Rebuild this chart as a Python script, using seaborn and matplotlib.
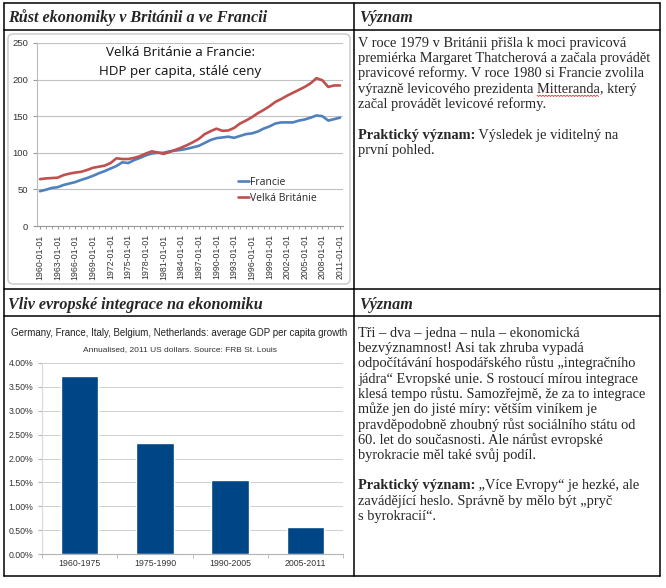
import matplotlib
matplotlib.use("Agg")
import numpy as np
import pandas as pd
import seaborn as sns
import matplotlib.pyplot as plt
from matplotlib.lines import Line2D
from matplotlib.patches import FancyBboxPatch
from matplotlib.text import Annotation
from matplotlib.ticker import FuncFormatter

W, H = 666, 588

# --- data ---
years = list(range(1960, 2012))
francie = [47.5, 49.5, 52, 53, 56, 58, 60, 63, 65.5, 68.5,
           72, 75, 78.5, 82, 87, 86, 90, 93, 96.5, 99,
           100, 100, 102, 103, 104, 105.5, 107.5, 109.5, 113.5, 117.5,
           120, 121, 122, 120.5, 123, 125.5, 126.5, 129, 133, 136,
           140, 141.5, 141.5, 141.5, 144, 145.5, 148, 151, 150, 144,
           146, 148]
britanie = [64, 65, 65.5, 66, 69.5, 71.5, 73, 74, 76.5, 79.5,
            81, 82.5, 86, 92.5, 91.5, 91.5, 93, 95.5, 99, 102,
            100.5, 98.5, 101, 104, 107, 110.5, 114.5, 119, 125.5, 129.5,
            133, 130, 130.5, 134, 140, 144, 148.5, 154, 158.5, 163.5,
            169.5, 173.5, 178, 182, 186, 190, 195, 202, 199, 190,
            192, 192]
periods = ["1960-1975", "1975-1990", "1990-2005", "2005-2011"]
growth = [3.72, 2.33, 1.55, 0.56]

text1 = ["V roce 1979 v Británii přišla k moci pravicová",
         "premiérka Margaret Thatcherová a začala provádět",
         "pravicové reformy. V roce 1980 si Francie zvolila",
         "výrazně levicového prezidenta Mitteranda, který",
         "začal provádět levicové reformy."]
text2 = ["Tři – dva – jedna – nula – ekonomická",
         "bezvýznamnost! Asi tak zhruba vypadá",
         "odpočítávání hospodářského růstu „integračního",
         "jádra“ Evropské unie. S rostoucí mírou integrace",
         "klesá tempo růstu. Samozřejmě, že za to integrace",
         "může jen do jisté míry: větším viníkem je",
         "pravděpodobně zhoubný růst sociálního státu od",
         "60. let do současnosti. Ale nárůst evropské",
         "byrokracie měl také svůj podíl."]
prakt1 = [" Výsledek je viditelný na", "první pohled."]
prakt2 = [" „Více Evropy“ je hezké, ale", "zavádějící heslo. Správně by mělo být „pryč",
          "s byrokracií“."]

sns.set_style("white")
plt.rcParams['font.family'] = ['Liberation Serif', 'DejaVu Serif']


def fx(x):
    return x / W


def fy(y):
    return 1 - y / H


fig = plt.figure(figsize=(W / 100, H / 100), dpi=100)
rend = fig.canvas.get_renderer()

# table grid
for y in [3, 30, 289, 316, 576]:
    fig.add_artist(Line2D([fx(4), fx(660)], [fy(y), fy(y)], color="black", lw=1.1))
for x in [4, 354, 660]:
    fig.add_artist(Line2D([fx(x), fx(x)], [fy(3), fy(576)], color="black", lw=1.1))

# headers
hdr = dict(fontsize=11.6, fontweight="bold", fontstyle="italic", va="baseline")
fig.text(fx(8), fy(22), "Růst ekonomiky v Británii a ve Francii", **hdr)
fig.text(fx(359), fy(22), "Význam", **hdr)
fig.text(fx(8), fy(309), "Vliv evropské integrace na ekonomiku", **hdr)
fig.text(fx(359), fy(309), "Význam", **hdr)

FS = 10.4
body = dict(fontsize=FS, va="baseline", ha="left")
step = 15.25


def block(lines, y0):
    out = []
    for i, s in enumerate(lines):
        out.append(fig.text(fx(358), fy(y0 + i * step), s, **body))
    return out


def prakt(lines, y0):
    b = fig.text(fx(358), fy(y0), "Praktický význam:", fontweight="bold", **body)
    a = Annotation(lines[0], xy=(1, 0), xycoords=b, va="bottom", ha="left",
                   fontsize=FS)
    fig.add_artist(a)
    for i, s in enumerate(lines[1:], start=1):
        fig.text(fx(358), fy(y0 + i * step), s, **body)


block(text1, 47)
prakt(prakt1, 47 + 6 * step)
block(text2, 337)
prakt(prakt2, 337 + 10 * step)

# red spell-check squiggle under "Mitteranda"
line4 = text1[3]
pre = line4[:line4.index("Mitteranda")]
tmp = fig.text(0, 0, pre + "|", **body)
tmp2 = fig.text(0, 0, "|", **body)
x0 = 358 + tmp.get_window_extent(rend).width - tmp2.get_window_extent(rend).width
tmp3 = fig.text(0, 0, "Mitteranda", **body)
x1 = x0 + tmp3.get_window_extent(rend).width
for t in (tmp, tmp2, tmp3):
    t.remove()
yb = 47 + 3 * step + 2.5
zx = np.arange(x0, x1 + 0.1, 1.5)
zy = yb + np.where(np.arange(len(zx)) % 2 == 0, 0, 1.2)
fig.add_artist(Line2D(fx(zx), fy(zy), color="#e03030", lw=0.6))

# --- chart 1: line chart ---
fig.add_artist(FancyBboxPatch((fx(8), fy(284)), fx(350) - fx(8), fy(34) - fy(284),
                              boxstyle="round,pad=0,rounding_size=0.008",
                              transform=fig.transFigure, ec="#c8c8c8", fc="none", lw=1))
ax1 = fig.add_axes([fx(37), fy(226), fx(343) - fx(37), fy(43) - fy(226)])
df1 = pd.DataFrame({"rok": years * 2,
                    "hdp": francie + britanie,
                    "zeme": ["Francie"] * len(years) + ["Velká Británie"] * len(years)})
sns.lineplot(data=df1, x="rok", y="hdp", hue="zeme", ax=ax1,
             palette={"Francie": "#4F81BD", "Velká Británie": "#C0504D"}, lw=1.9)
ax1.set_xlim(1959.5, 2011.5)
ax1.set_ylim(0, 250)
ax1.set_yticks(range(0, 251, 50))
ticks = list(range(1960, 2012, 3))
ax1.set_xticks(ticks)
ax1.set_xticklabels([f"{t}-01-01" for t in ticks], rotation=90,
                    fontsize=6.3, family="Liberation Sans", color="#333333")
ax1.set_xticks(years, minor=True)
ax1.tick_params(axis="y", labelsize=6.8, labelcolor="#333333", length=3,
                left=True, color="#999999")
for lab in ax1.get_yticklabels():
    lab.set_family("Liberation Sans")
ax1.tick_params(axis="x", which="both", bottom=True, length=2.5, color="#999999")
ax1.grid(axis="y", color="#c0c0c0", lw=0.8)
ax1.set_xlabel("")
ax1.set_ylabel("")
for s in ["top", "right"]:
    ax1.spines[s].set_visible(False)
ax1.spines["left"].set_color("#bbbbbb")
ax1.spines["bottom"].set_color("#999999")
sns.move_legend(ax1, loc="upper left", bbox_to_anchor=(0.625, 0.32), frameon=False,
                title=None, handlelength=1.1, handletextpad=0.1,
                labelspacing=0.45, prop={"family": "Open Sans", "size": 7.5})
fig.text(fx(180), fy(53), "Velká Británie a Francie:", ha="center", va="center",
         fontsize=9.6, family="Open Sans", color="#111111")
fig.text(fx(180), fy(72), "HDP per capita, stálé ceny", ha="center", va="center",
         fontsize=9.6, family="Open Sans", color="#111111")

# --- chart 2: bar chart ---
ax2 = fig.add_axes([fx(42), fy(554), fx(343) - fx(42), fy(363) - fy(554)])
df2 = pd.DataFrame({"obdobi": periods, "rust": growth})
sns.barplot(data=df2, x="obdobi", y="rust", color="#004586", saturation=1,
            width=0.5, ax=ax2)
ax2.set_xlim(-0.5, 3.5)
ax2.set_ylim(0, 4)
ax2.set_yticks(np.arange(0, 4.01, 0.5))
ax2.yaxis.set_major_formatter(FuncFormatter(lambda v, p: f"{v:.2f}%"))
ax2.set_xticks([-0.5, 0.5, 1.5, 2.5, 3.5], minor=True)
ax2.tick_params(axis="x", which="major", length=0, labelsize=6.3, labelcolor="#333333")
ax2.tick_params(axis="x", which="minor", bottom=True, length=3, color="#b3b3b3")
ax2.tick_params(axis="y", labelsize=6.3, labelcolor="#333333", left=True, length=3,
                color="#b3b3b3")
for lab in ax2.get_xticklabels() + ax2.get_yticklabels():
    lab.set_family("Liberation Sans")
ax2.grid(axis="y", color="#d0d0d0", lw=0.7)
ax2.set_axisbelow(True)
ax2.set_xlabel("")
ax2.set_ylabel("")
for s in ["top", "right"]:
    ax2.spines[s].set_visible(False)
ax2.spines["left"].set_color("#d9d9d9")
ax2.spines["bottom"].set_color("#b3b3b3")
fig.text(fx(179), fy(333), "Germany, France, Italy, Belgium, Netherlands: average GDP per capita growth",
         ha="center", va="center", fontsize=7.0, family="Liberation Sans", color="#222222")
fig.text(fx(180), fy(350), "Annualised, 2011 US dollars. Source: FRB St. Louis",
         ha="center", va="center", fontsize=6.0, family="Liberation Sans", color="#333333")

fig.savefig("out.png", dpi=100)
